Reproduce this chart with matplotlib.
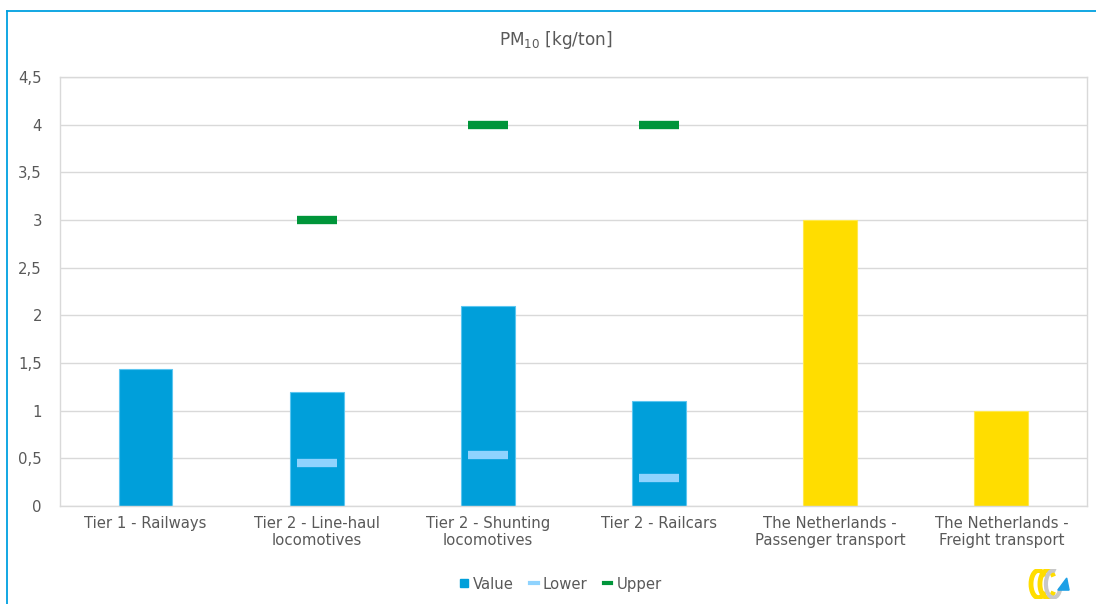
import matplotlib
matplotlib.use('Agg')
import matplotlib.pyplot as plt
from matplotlib.lines import Line2D
from matplotlib.patches import Arc, Polygon
import numpy as np

categories = ["Tier 1 - Railways", "Tier 2 - Line-haul\nlocomotives",
              "Tier 2 - Shunting\nlocomotives", "Tier 2 - Railcars",
              "The Netherlands -\nPassenger transport", "The Netherlands -\nFreight transport"]
value = [1.44, 1.2, 2.1, 1.1, 3.0, 1.0]
lower = [None, 0.45, 0.53, 0.29, None, None]
upper = [None, 3.0, 4.0, 4.0, None, None]
yticks = [0, 0.5, 1, 1.5, 2, 2.5, 3, 3.5, 4, 4.5]

blue = '#009fda'
yellow = '#ffdd00'
light = '#8fd3fe'
green = '#00953a'
grey_txt = '#595959'
grid = '#d9d9d9'

bar_colors = [blue, blue, blue, blue, yellow, yellow]
edge_colors = ['#5cc6f0'] * 4 + ['#ffe94d'] * 2

fig = plt.figure(figsize=(10.96, 6.04), dpi=100)
ax = fig.add_axes([0.0547, 0.1623, 0.937, 0.7102])

x = np.arange(len(categories))
ax.bar(x, value, width=0.315, color=bar_colors, edgecolor=edge_colors, linewidth=0.8, zorder=2)

lx = [i for i, v in enumerate(lower) if v is not None]
ax.plot(lx, [lower[i] for i in lx], linestyle='none', marker='_', ms=29, mew=6,
        color=light, zorder=3)
ux = [i for i, v in enumerate(upper) if v is not None]
ax.plot(ux, [upper[i] for i in ux], linestyle='none', marker='_', ms=29, mew=6,
        color=green, zorder=3)

ax.set_xlim(-0.5, len(categories) - 0.5)
ax.set_ylim(0, 4.5)
ax.set_yticks(yticks)
ax.set_yticklabels([("%g" % t).replace('.', ',') for t in yticks])
ax.set_xticks(x)
ax.set_xticklabels(categories, linespacing=1.2)
ax.tick_params(length=0, colors=grey_txt, labelsize=10.7)
ax.tick_params(axis='y', pad=13)
ax.tick_params(axis='x', pad=7)
ax.yaxis.grid(True, color=grid, linewidth=1, zorder=0)
ax.set_axisbelow(True)
for s in ax.spines.values():
    s.set_color(grid)
    s.set_linewidth(1)

fig.text(0.507, 0.933, "PM$_{10}$ [kg/ton]", ha='center', va='center',
         fontsize=12.2, color=grey_txt)

handles = [Line2D([], [], linestyle='none', marker='s', ms=6, color=blue),
           Line2D([], [], color=light, lw=3),
           Line2D([], [], color=green, lw=3)]
fig.legend(handles, ["Value", "Lower", "Upper"], loc='center', ncol=3,
           bbox_to_anchor=(0.512, 0.033), frameon=False, fontsize=10.7,
           labelcolor=grey_txt, handlelength=0.5, handletextpad=0.35,
           columnspacing=1.1)

# outer frame, open at the right and bottom
fig.add_artist(Line2D([0.0064, 0.0064], [0, 0.981], color='#00a0e0', lw=1.3,
                      transform=fig.transFigure))
fig.add_artist(Line2D([0.0064, 1.0], [0.981, 0.981], color='#00a0e0', lw=1.3,
                      transform=fig.transFigure))

# small logo in the corner
lax = fig.add_axes([0.938, 0.008, 0.038, 0.05])
lax.set_xlim(0, 1.4)
lax.set_ylim(0, 1)
lax.axis('off')
lax.add_patch(Arc((0.35, 0.5), 0.5, 0.9, theta1=50, theta2=310, color=yellow, lw=3.5))
lax.add_patch(Arc((0.65, 0.5), 0.5, 0.9, theta1=50, theta2=310, color=yellow, lw=3.5))
lax.add_patch(Arc((0.85, 0.5), 0.5, 0.9, theta1=80, theta2=330, color='#c8c8c8', lw=3))
lax.add_patch(Polygon([[1.0, 0.3], [1.38, 0.3], [1.3, 0.7]], color='#1ea0e6'))

plt.savefig("out.png", format="png", dpi=100)
